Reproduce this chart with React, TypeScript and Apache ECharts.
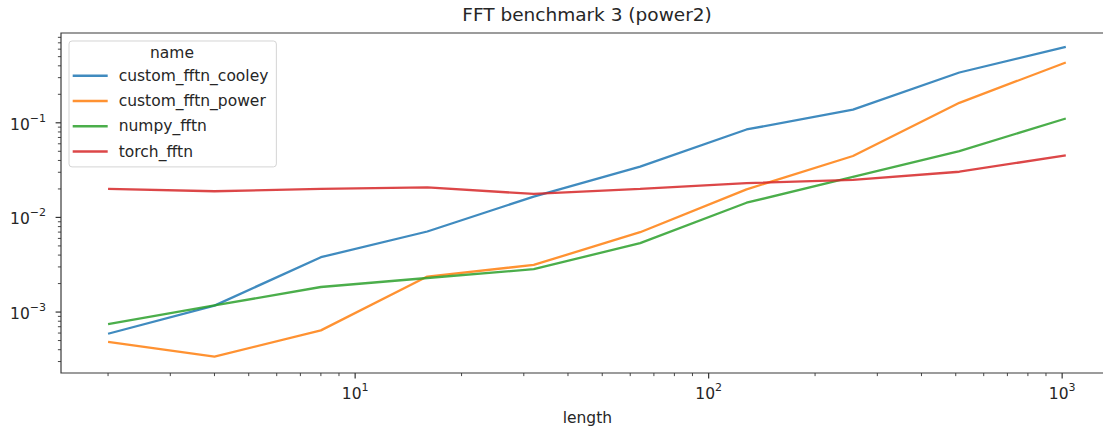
import React, { useEffect, useRef } from 'react';
import * as echarts from 'echarts';

const lengths = [2, 4, 8, 16, 32, 64, 128, 256, 512, 1024];
const seriesNames = ['custom_fftn_cooley', 'custom_fftn_power', 'numpy_fftn', 'torch_fftn'];
const cooley = [5.9e-4, 1.17e-3, 3.8e-3, 7.1e-3, 0.0166, 0.0344, 0.085, 0.138, 0.34, 0.633];
const power = [4.83e-4, 3.38e-4, 6.4e-4, 2.37e-3, 3.15e-3, 6.98e-3, 0.0198, 0.0446, 0.1625, 0.434];
const numpy = [7.47e-4, 1.175e-3, 1.84e-3, 2.29e-3, 2.84e-3, 5.35e-3, 0.0143, 0.0269, 0.0503, 0.111];
const torch = [0.02, 0.0189, 0.02, 0.0208, 0.0177, 0.02, 0.023, 0.0249, 0.0304, 0.0453];
const seriesValues = [cooley, power, numpy, torch];
const colors = ['#1f77b4', '#ff7f0e', '#2ca02c', '#d62728'];

const xMajorTicks = [10, 100, 1000];
const yMajorTicks = [0.001, 0.01, 0.1];
const X_MIN = 1.472;
const X_MAX = 1399;
const Y_MIN = 2.27e-4;
const Y_MAX = 0.889;

const xMinorTicks: number[] = [];
for (let k = 0; k <= 3; k++) {
  for (let m = 2; m <= 9; m++) {
    const v = m * Math.pow(10, k);
    if (v > X_MIN && v < X_MAX) xMinorTicks.push(v);
  }
}
const yMinorTicks: number[] = [];
for (let k = -4; k <= -1; k++) {
  for (let m = 2; m <= 9; m++) {
    const v = m * Math.pow(10, k);
    if (v > Y_MIN && v < Y_MAX) yMinorTicks.push(v);
  }
}

function fmt(v: number): string {
  const l = Math.log10(v);
  const e = Math.round(l);
  if (Math.abs(l - e) > 1e-6) return '';
  return '{b|10}{s|' + String(e).replace('-', '\u2212') + '}';
}

const FONT = '"DejaVu Sans", sans-serif';
const TEXT = '#262626';
const labelRich = {
  b: { fontFamily: FONT, fontSize: 15.5, color: TEXT, lineHeight: 20, verticalAlign: 'bottom' },
  s: { fontFamily: FONT, fontSize: 11, color: TEXT, lineHeight: 12, verticalAlign: 'top' },
};

export default function App() {
  const ref = useRef<HTMLDivElement>(null);
  useEffect(() => {
    document.body.style.margin = '0';
    if (!ref.current) return;
    const chart = echarts.init(ref.current, undefined, { renderer: 'svg' });
    const tickData = [
      ...xMajorTicks.map((v) => [v, Y_MIN, 0]),
      ...xMinorTicks.map((v) => [v, Y_MIN, 1]),
      ...yMajorTicks.map((v) => [X_MIN, v, 2]),
      ...yMinorTicks.map((v) => [X_MIN, v, 3]),
    ];
    chart.setOption({
      animation: false,
      title: {
        text: 'FFT benchmark 3 (power2)',
        left: 587,
        top: 5,
        padding: 0,
        textAlign: 'center',
        textStyle: { fontFamily: FONT, fontSize: 18.5, fontWeight: 'normal', color: TEXT },
      },
      grid: {
        left: 61,
        top: 33,
        width: 1052.7,
        bottom: 56,
        show: true,
        borderColor: '#3a3a3a',
        borderWidth: 1.2,
        backgroundColor: 'transparent',
        containLabel: false,
        outerBoundsMode: 'none',
      },
      legend: {
        data: seriesNames,
        orient: 'vertical',
        left: 69,
        top: 41,
        padding: [25.7, 8, 6.3, 3.7],
        itemWidth: 35,
        itemHeight: 2.5,
        itemGap: 7.3,
        icon: 'rect',
        backgroundColor: 'rgba(255,255,255,0.8)',
        borderColor: '#d4d4d4',
        borderWidth: 1,
        borderRadius: 3,
        textStyle: { fontFamily: FONT, fontSize: 15.5, color: TEXT, lineHeight: 18, padding: [0, 0, 0, 6] },
      },
      graphic: [
        {
          type: 'text',
          x: 172,
          y: 53,
          z: 100,
          style: {
            text: 'name',
            font: '15.5px "DejaVu Sans", sans-serif',
            fill: TEXT,
            align: 'center',
            verticalAlign: 'middle',
          },
        },
      ],
      xAxis: {
        type: 'log',
        min: X_MIN,
        max: X_MAX,
        name: 'length',
        nameLocation: 'middle',
        nameGap: 37,
        nameTextStyle: { fontFamily: FONT, fontSize: 15.5, color: TEXT },
        axisLine: { show: false },
        axisTick: { show: false },
        splitLine: { show: false },
        axisLabel: {
          showMinLabel: false,
          showMaxLabel: false,
          margin: 9,
          fontFamily: FONT,
          fontSize: 15.5,
          color: TEXT,
          formatter: (v: number) => fmt(v),
          rich: labelRich,
        },
      },
      yAxis: {
        type: 'log',
        min: Y_MIN,
        max: Y_MAX,
        axisLine: { show: false },
        axisTick: { show: false },
        splitLine: { show: false },
        axisLabel: {
          showMinLabel: false,
          showMaxLabel: false,
          margin: 15,
          fontFamily: FONT,
          fontSize: 15.5,
          color: TEXT,
          formatter: (v: number) => fmt(v),
          rich: labelRich,
        },
      },
      series: [
        ...seriesNames.map((name, i) => ({
          type: 'line',
          name,
          data: lengths.map((x, j) => [x, seriesValues[i][j]]),
          symbol: 'none',
          showSymbol: false,
          lineStyle: { width: 2.3, color: colors[i], opacity: 0.85 },
          itemStyle: { color: colors[i], opacity: 0.85 },
          z: 2 + i,
        })),
        {
          type: 'custom',
          name: 'ticks',
          silent: true,
          clip: false,
          z: 10,
          data: tickData,
          renderItem: (params: any, api: any) => {
            const kind = api.value(2);
            const p = api.coord([api.value(0), api.value(1)]);
            const major = kind === 0 || kind === 2;
            const len = major ? 5.4 : 3.1;
            const style = { stroke: '#333', lineWidth: major ? 1.2 : 0.9 };
            if (kind < 2) {
              return { type: 'line', shape: { x1: p[0], y1: p[1], x2: p[0], y2: p[1] + len }, style };
            }
            return { type: 'line', shape: { x1: p[0] - len, y1: p[1], x2: p[0], y2: p[1] }, style };
          },
        },
      ],
    });
    return () => chart.dispose();
  }, []);
  return <div ref={ref} style={{ width: 1103, height: 429 }} />;
}
